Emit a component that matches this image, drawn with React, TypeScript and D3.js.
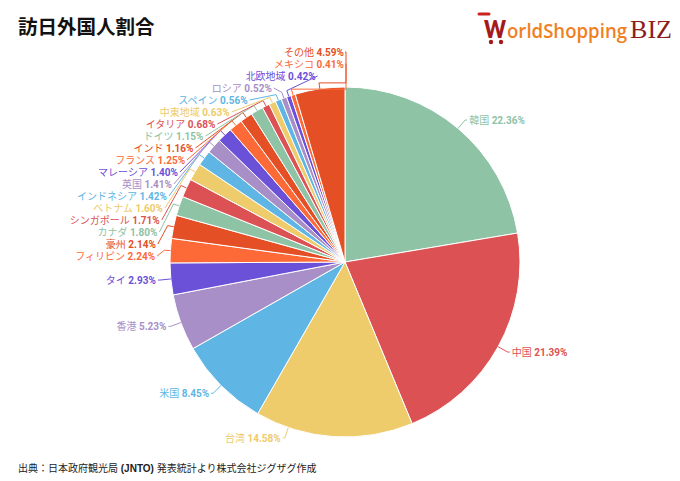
import React from "react";
import * as d3 from "d3";

const titleText = "訪日外国人割合";
const sourceText = ["出典：日本政府観光局 ", "(JNTO)", " 発表統計より株式会社ジグザグ作成"];

const countries = [
  "韓国", "中国", "台湾", "米国", "香港", "タイ", "フィリピン", "豪州",
  "カナダ", "シンガポール", "ベトナム", "インドネシア", "英国", "マレーシア",
  "フランス", "インド", "ドイツ", "イタリア", "中東地域", "スペイン",
  "ロシア", "北欧地域", "メキシコ", "その他",
];
const shares = [
  22.36, 21.39, 14.58, 8.45, 5.23, 2.93, 2.24, 2.14,
  1.80, 1.71, 1.60, 1.42, 1.41, 1.40,
  1.25, 1.16, 1.15, 0.68, 0.63, 0.56,
  0.52, 0.42, 0.41, 4.59,
];
const palette = [
  "#8ec3a6", "#dc5254", "#eecb6b", "#5fb5e3",
  "#a98fc7", "#6b50d8", "#fd6a38", "#e44f25",
];

const W = 680, H = 481;
const cx = 345, cy = 262, R = 175;
const labelFont = "Roboto, 'Noto Sans CJK JP', sans-serif";
const stackStart = 6; // first slice placed in the stacked column on the left
const stackGap = 12;

export default function App() {
  const pie = d3.pie<number>().sort(null).value((d) => d);
  const arcs = pie(shares);
  const arcGen = d3.arc<d3.PieArcDatum<number>>().innerRadius(0).outerRadius(R);
  const color = d3.scaleOrdinal<number, string>().domain(d3.range(palette.length)).range(palette);

  const pt = (a: number, r: number): [number, number] => [cx + r * Math.sin(a), cy - r * Math.cos(a)];

  const labels = arcs.map((d, i) => {
    const mid = (d.startAngle + d.endAngle) / 2;
    const c = color(i % palette.length);
    if (i >= stackStart) {
      const k = i - stackStart;
      const ly = cy - 6 - k * stackGap;
      const Rl = R + 13;
      const dy = ly - cy;
      const p0 = pt(mid, R);
      const p1 = pt(mid, R + 6);
      if (Rl * Rl - dy * dy <= 0) {
        const vx = cx + 1;
        return {
          i, c, points: [p0, p1, [vx, p1[1]] as [number, number], [vx, ly] as [number, number], [vx - 1, ly] as [number, number]],
          tx: vx - 2, ty: ly, anchor: "end",
        };
      }
      const ex = cx - Math.sqrt(Rl * Rl - dy * dy);
      const p2: [number, number] = [ex, ly];
      return { i, c, points: [p0, p1, p2], tx: ex - 2, ty: ly, anchor: "end" };
    }
    let a = mid;
    if (a > Math.PI * 0.95 && a < Math.PI * 1.105) a = Math.PI * 1.105;
    const p0 = pt(a, R);
    const p1 = pt(a, R + 11);
    const right = Math.sin(a) >= 0;
    const p2: [number, number] = [p1[0] + (right ? 2 : -2), p1[1]];
    return {
      i, c, points: [p0, p1, p2],
      tx: p2[0] + (right ? 2 : -2), ty: p2[1], anchor: right ? "start" : "end",
    };
  });

  const line = d3.line();

  return (
    <svg width={W} height={H} style={{ position: "absolute", left: 0, top: 0, background: "#fff" }}>
      <rect width={W} height={H} fill="#fff" />
      <text x={18} y={25} dominantBaseline="central" fontSize={19.5} fontWeight={700}
        fontFamily="'Noto Sans CJK JP', sans-serif" fill="#111">{titleText}</text>

      {/* logo */}
      <g>
        <line x1={479} y1={14} x2={489} y2={14} stroke="#c8231f" strokeWidth={3} strokeLinecap="round" />
        <text x={484} y={38} fontSize={24} fontWeight={800} fontFamily="Lato, 'Open Sans', sans-serif"
          fill="#a3191c" textLength={22} lengthAdjust="spacingAndGlyphs">W</text>
        <circle cx={491} cy={42} r={2.2} fill="#a3191c" />
        <circle cx={501} cy={42} r={2.2} fill="#a3191c" />
        <text x={507} y={38} fontSize={19} fontWeight={600} fontFamily="'Open Sans', sans-serif"
          fill="#f0801f" textLength={120} lengthAdjust="spacingAndGlyphs">orldShopping</text>
        <text x={630} y={38} fontSize={26} fontFamily="'Liberation Serif', serif"
          fill="#8c1d1d" textLength={42} lengthAdjust="spacingAndGlyphs">BIZ</text>
      </g>

      <g>
        {arcs.map((d, i) => (
          <path key={i} d={arcGen(d) || ""} transform={`translate(${cx},${cy})`}
            fill={color(i % palette.length)} stroke="#fff" strokeWidth={1} />
        ))}
      </g>

      <g>
        {labels.map((l) => (
          <g key={l.i}>
            <path d={line(l.points as [number, number][]) || ""} fill="none" stroke={l.c} strokeWidth={1} />
            <text x={l.tx} y={l.ty} textAnchor={l.anchor as any} dominantBaseline="central"
              fontSize={10} fontFamily={labelFont} fill={l.c}>
              <tspan>{countries[l.i]} </tspan>
              <tspan fontWeight={700}>{shares[l.i].toFixed(2)}%</tspan>
            </text>
          </g>
        ))}
      </g>

      <text x={18} y={468} dominantBaseline="central" fontSize={10}
        fontFamily="'Liberation Sans', 'Noto Sans CJK JP', sans-serif" fill="#222">
        <tspan>{sourceText[0]}</tspan>
        <tspan fontWeight={700}>{sourceText[1]}</tspan>
        <tspan>{sourceText[2]}</tspan>
      </text>
    </svg>
  );
}
